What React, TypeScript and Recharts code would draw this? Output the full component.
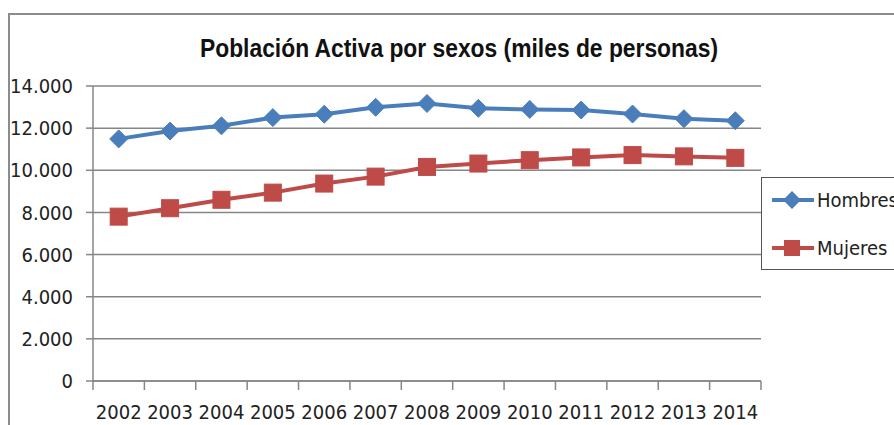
import React from "react";
import {
  LineChart,
  Line,
  XAxis,
  YAxis,
  CartesianGrid,
} from "recharts";

// --- Data (miles de personas) ---

const years = [
  "2002", "2003", "2004", "2005", "2006", "2007", "2008",
  "2009", "2010", "2011", "2012", "2013", "2014",
];

const hombres = [
  11490, 11860, 12110, 12500, 12660, 12990, 13170,
  12940, 12890, 12860, 12670, 12450, 12350,
];

const mujeres = [
  7800, 8200, 8600, 8940, 9370, 9700, 10160,
  10320, 10480, 10610, 10720, 10660, 10590,
];

const yTicks = [0, 2000, 4000, 6000, 8000, 10000, 12000, 14000];

const chartData = years.map((year, i) => ({
  year,
  hombres: hombres[i],
  mujeres: mujeres[i],
}));

// --- Styles ---

const BLUE = "#4A7EBB";
const RED = "#BE4B48";
const AXIS = "#868686";
const FONT = "'DejaVu Sans Condensed', 'DejaVu Sans', sans-serif";

const fmtThousands = (v: number) =>
  String(v).replace(/\B(?=(\d{3})+(?!\d))/g, ".");

const Diamond = ({ cx, cy, r = 9 }: any) => (
  <polygon
    points={`${cx},${cy - r} ${cx + r},${cy} ${cx},${cy + r} ${cx - r},${cy}`}
    fill={BLUE}
    stroke={BLUE}
    strokeWidth={1}
  />
);

const Square = ({ cx, cy, s = 8.5 }: any) => (
  <rect
    x={cx - s}
    y={cy - s}
    width={s * 2}
    height={s * 2}
    fill={RED}
    stroke={RED}
    strokeWidth={1}
  />
);

// x tick: label centered in the category, tick mark at the category edges
const YearTick = (props: any) => {
  const { x, y, payload, index } = props;
  const half = payload?.offset ?? 25.7;
  return (
    <g>
      <line x1={x - half} y1={y - 9} x2={x - half} y2={y} stroke={AXIS} strokeWidth={1.5} />
      {index === years.length - 1 && (
        <line x1={x + half} y1={y - 9} x2={x + half} y2={y} stroke={AXIS} strokeWidth={1.5} />
      )}
      <text
        x={x}
        y={y + 29}
        textAnchor="middle"
        fontFamily={FONT}
        fontSize={20}
        fill="#222"
      >
        {payload.value}
      </text>
    </g>
  );
};

const legendItems = [
  { name: "Hombres", color: BLUE, mark: "diamond" },
  { name: "Mujeres", color: RED, mark: "square" },
];

const LegendBox = () => (
  <div
    style={{
      position: "absolute",
      left: 761,
      top: 177,
      width: 200,
      height: 93,
      border: "1.5px solid #555",
      background: "#fff",
      boxSizing: "border-box",
      fontFamily: FONT,
      fontSize: 20,
      color: "#222",
    }}
  >
    {legendItems.map((item, i) => (
      <div
        key={item.name}
        style={{
          position: "absolute",
          left: 8,
          top: i === 0 ? 9 : 57,
          display: "flex",
          alignItems: "center",
          height: 26,
        }}
      >
        <svg width={46} height={26}>
          <line x1={2} y1={13} x2={44} y2={13} stroke={item.color} strokeWidth={4} />
          {item.mark === "diamond" ? (
            <polygon points="22,4 31,13 22,22 13,13" fill={item.color} />
          ) : (
            <rect x={14} y={5} width={16} height={16} fill={item.color} />
          )}
        </svg>
        <span style={{ marginLeft: 1 }}>{item.name}</span>
      </div>
    ))}
  </div>
);

const App = () => {
  return (
    <div
      style={{
        position: "absolute",
        left: 0,
        top: 0,
        width: 894,
        height: 425,
        overflow: "hidden",
        background: "#fff",
      }}
    >
      {/* outer chart frame, cut off at the right and bottom */}
      <div
        style={{
          position: "absolute",
          left: 8,
          top: 13,
          width: 1000,
          height: 600,
          border: "2px solid #8c8c8c",
        }}
      />
      <svg
        width={894}
        height={80}
        style={{ position: "absolute", left: 0, top: 0 }}
      >
        <text
          x={459}
          y={57}
          textAnchor="middle"
          textLength={518}
          lengthAdjust="spacingAndGlyphs"
          fontFamily="'Liberation Sans', Arial, sans-serif"
          fontWeight="bold"
          fontSize={25}
          fill="#111"
        >
          Población Activa por sexos (miles de personas)
        </text>
      </svg>
      <div style={{ position: "absolute", left: 0, top: 0 }}>
        <LineChart
          width={894}
          height={425}
          data={chartData}
          margin={{ top: 86, right: 133, bottom: 0, left: 0 }}
        >
          <CartesianGrid vertical={false} stroke={AXIS} strokeWidth={1.5} />
          <XAxis
            dataKey="year"
            scale="band"
            height={44}
            axisLine={{ stroke: AXIS, strokeWidth: 1.5 }}
            tickLine={false}
            tickSize={9}
            tickMargin={0}
            tick={<YearTick />}
            interval={0}
          />
          <YAxis
            width={93}
            domain={[0, 14000]}
            ticks={yTicks}
            interval={0}
            tickFormatter={fmtThousands}
            axisLine={{ stroke: AXIS, strokeWidth: 1.5 }}
            tickLine={{ stroke: AXIS, strokeWidth: 1.5 }}
            tickSize={7}
            tickMargin={13}
            tick={{ fontFamily: FONT, fontSize: 20, fill: "#222" }}
          />
          <Line
            dataKey="hombres"
            name="Hombres"
            stroke={BLUE}
            strokeWidth={4}
            dot={(p: any) => <Diamond key={`h${p.index}`} cx={p.cx} cy={p.cy} />}
            activeDot={false}
            isAnimationActive={false}
          />
          <Line
            dataKey="mujeres"
            name="Mujeres"
            stroke={RED}
            strokeWidth={4}
            dot={(p: any) => <Square key={`m${p.index}`} cx={p.cx} cy={p.cy} />}
            activeDot={false}
            isAnimationActive={false}
          />
        </LineChart>
      </div>
      <LegendBox />
    </div>
  );
};

export default App;
